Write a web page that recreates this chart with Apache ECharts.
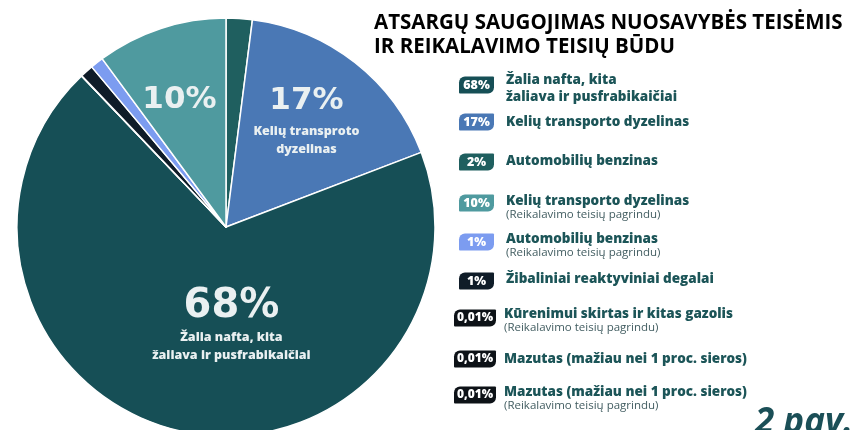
<!DOCTYPE html>
<html>
<head>
<meta charset="utf-8">
<script src="https://cdn.jsdelivr.net/npm/echarts@6/dist/echarts.min.js"></script>
<style>
  html, body { margin: 0; padding: 0; background: #ffffff; }
  #chart { width: 854px; height: 430px; }
</style>
</head>
<body>
<div id="chart"></div>
<script>
// Fuel reserves by type, in the order the slices run clockwise from 12 o'clock
const fuelTitles = [
  'Automobilių benzinas',
  'Kelių transporto dyzelinas',
  'Žalia nafta, kita\nžaliava ir pusfrabikaičiai',
  'Kūrenimui skirtas ir kitas gazolis',
  'Mazutas (mažiau nei 1 proc. sieros)',
  'Mazutas (mažiau nei 1 proc. sieros)',
  'Žibaliniai reaktyviniai degalai',
  'Automobilių benzinas',
  'Kelių transporto dyzelinas'
];
const fuelNotes = [
  '',
  '',
  '',
  '(Reikalavimo teisių pagrindu)',
  '',
  '(Reikalavimo teisių pagrindu)',
  '',
  '(Reikalavimo teisių pagrindu)',
  '(Reikalavimo teisių pagrindu)'
];
const shares = [2, 17, 68, 0.01, 0.01, 0.01, 1, 1, 10];

// Captions printed inside the larger slices (null = no label)
const sliceCaptions = [
  null,
  'Kelių transproto\ndyzelinas',
  'Žalia nafta, kita\nžaliava ir pusfrabikaičiai',
  null, null, null, null, null,
  ''
];

// Order of the key rows (indices into the arrays above)
const keyOrder = [2, 1, 0, 8, 7, 6, 3, 4, 5];

// Styling
const sliceColors = ['#1f5f5f', '#4a78b5', '#164f56', '#0e161e', '#0e161e', '#0e161e', '#0f1c28', '#7c9cf0', '#4f9a9f'];
const badgeColors = ['#1f5f5f', '#4a78b5', '#164f56', '#0d1217', '#0d1217', '#0d1217', '#0f1c28', '#7c9cf0', '#4f9a9f'];
const rowBadgeCenters = [85, 122, 162, 203, 242, 281, 318, 359, 395];
const rowTitleCenters = [81, 123, 162, 202, 240, 280, 315, 360, 393];
const labelShift = { 1: [14, -24], 2: [29, -7], 8: [-13, -25] };

const pct = v => String(v).replace('.', ',') + '%';
const seriesName = i => fuelTitles[i].replace('\n', ' ') + (fuelNotes[i] ? ' ' + fuelNotes[i] : '');

const pieData = shares.map((v, i) => ({
  name: seriesName(i),
  value: v,
  itemStyle: { color: sliceColors[i] },
  label: { show: sliceCaptions[i] !== null }
}));

const legends = [];
keyOrder.forEach((idx, row) => {
  const small = shares[idx] < 1;
  const badgeW = small ? 42 : 35;
  const badgeLeft = small ? 453 : 458;
  const textLeft = small ? 503 : 505;
  // percentage badge
  legends.push({
    data: [seriesName(idx)],
    left: badgeLeft - 5,
    top: rowBadgeCenters[row] - 8.5,
    padding: 0,
    itemWidth: 0,
    itemHeight: 0,
    selectedMode: false,
    formatter: () => '{b|' + pct(shares[idx]) + '}',
    textStyle: {
      rich: {
        b: {
          backgroundColor: badgeColors[idx],
          color: '#ffffff',
          fontFamily: 'Open Sans',
          fontWeight: 800,
          fontSize: small ? 12 : 12.5,
          width: badgeW,
          height: 17,
          lineHeight: 17,
          align: 'center',
          borderRadius: [6, 1, 6, 1]
        }
      }
    }
  });
  // name and note
  const twoLineTitle = fuelTitles[idx].indexOf('\n') >= 0;
  legends.push({
    data: [seriesName(idx)],
    left: textLeft - 5,
    top: rowTitleCenters[row] - 8,
    padding: 0,
    itemWidth: 0,
    itemHeight: 0,
    selectedMode: false,
    formatter: () => {
      const lines = fuelTitles[idx].split('\n').map(t => '{t|' + t + '}');
      if (fuelNotes[idx]) lines.push('{s|' + fuelNotes[idx] + '}');
      return lines.join('\n');
    },
    textStyle: {
      rich: {
        t: {
          color: '#1c5558',
          fontFamily: 'Open Sans',
          fontWeight: 800,
          fontSize: 13.5,
          lineHeight: twoLineTitle ? 17 : 16
        },
        s: {
          color: '#425d61',
          fontFamily: 'Open Sans',
          fontSize: 11.5,
          lineHeight: 11
        }
      }
    }
  });
});

const chart = echarts.init(document.getElementById('chart'), null, { renderer: 'canvas' });
chart.setOption({
  backgroundColor: '#ffffff',
  animation: false,
  title: [
    {
      text: 'ATSARGŲ SAUGOJIMAS NUOSAVYBĖS TEISĖMIS\nIR REIKALAVIMO TEISIŲ BŪDU',
      left: 374,
      top: 11,
      padding: 0,
      textStyle: {
        color: '#000000',
        fontFamily: 'Open Sans',
        fontWeight: 'bold',
        fontSize: 20.5,
        lineHeight: 24
      }
    },
    {
      text: '2 pav.',
      left: 755,
      top: 403,
      padding: 0,
      textStyle: {
        color: '#1b4f57',
        fontFamily: 'Open Sans',
        fontWeight: 'bold',
        fontStyle: 'italic',
        fontSize: 35,
        lineHeight: 40
      }
    }
  ],
  legend: legends,
  series: [{
    type: 'pie',
    center: [226, 227],
    radius: [0, 209],
    startAngle: 90,
    clockwise: true,
    minAngle: 0,
    avoidLabelOverlap: false,
    emphasis: { disabled: true },
    itemStyle: { borderColor: '#ffffff', borderWidth: 1.5 },
    label: {
      position: 'inside',
      color: '#eaf0f1',
      formatter: p => {
        const cap = sliceCaptions[p.dataIndex];
        const big = p.value >= 50 ? 'p' : 'q';
        let s = '{' + big + '|' + pct(p.value) + '}';
        if (cap) s += '\n' + cap.split('\n').map(t => '{c|' + t + '}').join('\n');
        return s;
      },
      rich: {
        p: { fontFamily: 'DejaVu Sans', fontWeight: 'bold', fontSize: 40, lineHeight: 44, color: '#eaf0f1' },
        q: { fontFamily: 'DejaVu Sans', fontWeight: 'bold', fontSize: 31, lineHeight: 44, color: '#eaf0f1' },
        c: { fontFamily: 'Open Sans', fontWeight: 800, fontSize: 12.5, lineHeight: 18, color: '#eaf0f1' }
      }
    },
    labelLine: { show: false },
    labelLayout: p => {
      const d = labelShift[p.dataIndex];
      return d ? { dx: d[0], dy: d[1] } : {};
    },
    data: pieData
  }]
});
</script>
</body>
</html>
